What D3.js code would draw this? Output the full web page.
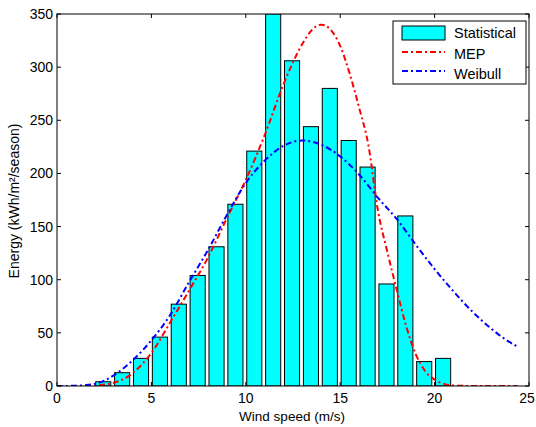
<!DOCTYPE html>
<html><head><meta charset="utf-8">
<script src="https://cdn.jsdelivr.net/npm/d3@7"></script>
<style>body{margin:0;background:#fff}svg{display:block}text{font-family:"Liberation Sans",Arial,sans-serif;fill:#000}</style>
</head><body><div id="chart"></div>
<script>
// ---- data ----
const binStarts = [0,1,2,3,4,5,6,7,8,9,10,11,12,13,14,15,16,17,18,19,20];
const statistical = [0,0,4,12.5,26,46,77,104,131,171,221,350,306,244,280,231,206,96,160,23,26];
const mepX = [0,1,2,3,4,5,6,7,8,9,10,11,12,13,13.5,14,14.5,15,15.5,16,16.5,17,17.5,18,18.5,19,19.5,20,20.5,21,22,23,24,24.4];
const mepY = [0,0,0.5,3,12,31,60,90,121,158,194,236,284,322,335,340,335,320,294,262,226,165,126,90,56,30,14,6,2,0.5,0,0,0,0];
const weibullX = [0,1,2,3,4,5,6,7,8,9,10,11,12,13,14,15,16,17,18,19,20,21,22,23,24,24.4];
const weibullY = [0,0.3,2,10,24,43,67,98,128,161,191,212,226,231,227,216,199,177,157,133,110,89,70,54,41,37];
const xTicks = [0,5,10,15,20,25];
const yTicks = [0,50,100,150,200,250,300,350];
const legendLabels = ["Statistical","MEP","Weibull"];

// ---- layout ----
const W = 536, H = 427;
const L = 57, R = 529, T = 14, B = 386;
const svg = d3.select("#chart").append("svg").attr("width", W).attr("height", H);
const x = d3.scaleLinear().domain([0,25]).range([L,R]);
const y = d3.scaleLinear().domain([0,350]).range([B,T]);

svg.append("defs").append("clipPath").attr("id","clip")
  .append("rect").attr("x",L).attr("y",T).attr("width",R-L).attr("height",B-T);

const plot = svg.append("g").attr("clip-path","url(#clip)");

// bars
plot.selectAll("rect.bar").data(binStarts).enter().append("rect")
  .attr("class","bar")
  .attr("x", d => x(d+0.05))
  .attr("width", d => x(d+0.85)-x(d+0.05))
  .attr("y", (d,i) => y(statistical[i]))
  .attr("height", (d,i) => y(0)-y(statistical[i]))
  .attr("fill","#00ffff").attr("stroke","#000").attr("stroke-width",1);

const line = d3.line().curve(d3.curveMonotoneX);
const dash = "6,3,2,3";
plot.append("path")
  .attr("d", line(mepX.map((v,i)=>[x(v), y(mepY[i])])))
  .attr("fill","none").attr("stroke","#ff0000").attr("stroke-width",2).attr("stroke-dasharray",dash);
plot.append("path")
  .attr("d", line(weibullX.map((v,i)=>[x(v), y(weibullY[i])])))
  .attr("fill","none").attr("stroke","#0000ff").attr("stroke-width",2).attr("stroke-dasharray",dash);

// axes (MATLAB box style, ticks inward)
const tl = 4;
const ax = svg.append("g");
ax.append("rect").attr("x",L).attr("y",T).attr("width",R-L).attr("height",B-T)
  .attr("fill","none").attr("stroke","#000").attr("stroke-width",1);
xTicks.forEach(t => {
  ax.append("line").attr("x1",x(t)).attr("x2",x(t)).attr("y1",B).attr("y2",B-tl).attr("stroke","#000");
  ax.append("line").attr("x1",x(t)).attr("x2",x(t)).attr("y1",T).attr("y2",T+tl).attr("stroke","#000");
  ax.append("text").attr("x",Math.min(x(t), W-9)).attr("y",B+17).attr("text-anchor","middle")
    .attr("font-size",14).text(t);
});
yTicks.forEach(t => {
  ax.append("line").attr("x1",L).attr("x2",L+tl).attr("y1",y(t)).attr("y2",y(t)).attr("stroke","#000");
  ax.append("line").attr("x1",R).attr("x2",R-tl).attr("y1",y(t)).attr("y2",y(t)).attr("stroke","#000");
  ax.append("text").attr("x",L-4).attr("y",y(t)+5).attr("text-anchor","end")
    .attr("font-size",14).text(t);
});

svg.append("text").attr("x",292).attr("y",421).attr("text-anchor","middle")
  .attr("font-size",13.5).text("Wind speed (m/s)");
svg.append("text").attr("transform",`translate(19,201) rotate(-90)`)
  .attr("text-anchor","middle").attr("font-size",14).text("Energy (kWh/m²/season)");

// legend
const lg = svg.append("g");
lg.append("rect").attr("x",393).attr("y",21).attr("width",133).attr("height",63)
  .attr("fill","#fff").attr("stroke","#000");
lg.append("rect").attr("x",402).attr("y",26).attr("width",43).attr("height",14)
  .attr("fill","#00ffff").attr("stroke","#000");
lg.append("line").attr("x1",402).attr("x2",445).attr("y1",52).attr("y2",52)
  .attr("stroke","#ff0000").attr("stroke-width",2).attr("stroke-dasharray",dash);
lg.append("line").attr("x1",402).attr("x2",445).attr("y1",71).attr("y2",71)
  .attr("stroke","#0000ff").attr("stroke-width",2).attr("stroke-dasharray",dash);
[38,59,79].forEach((yy,i) => {
  lg.append("text").attr("x",454).attr("y",yy).attr("font-size",14.5).text(legendLabels[i]);
});
</script></body></html>
